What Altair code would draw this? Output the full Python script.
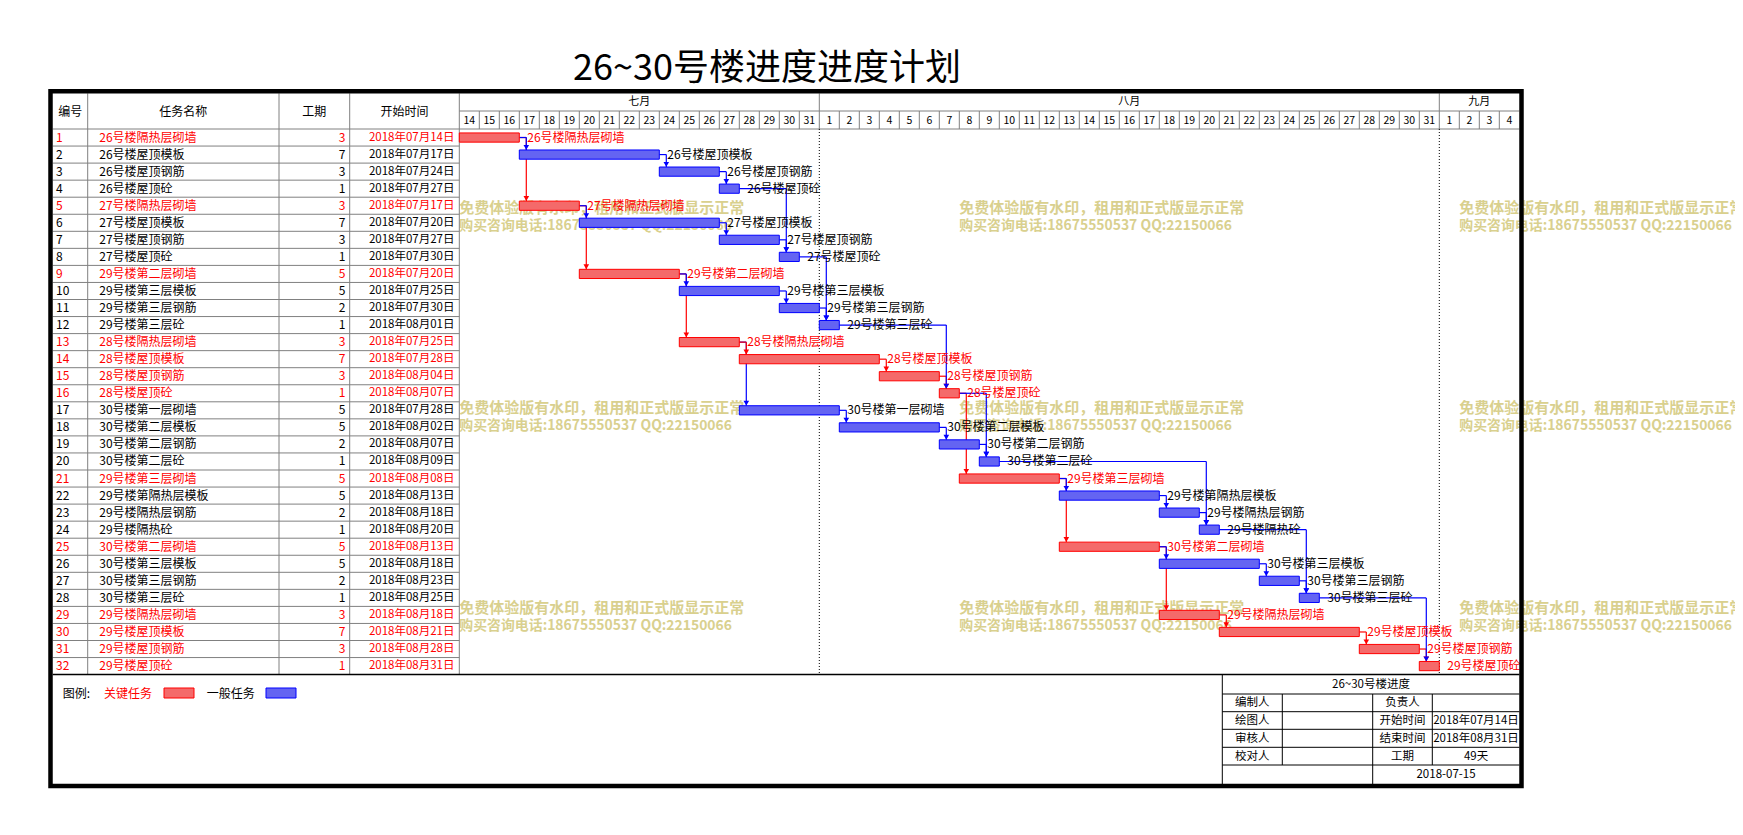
import altair as alt
import pandas as pd

# ---------------- data ----------------
TITLE = "26~30号楼进度进度计划"
task_ids = list(range(1, 33))
task_names = [
    "26号楼隔热层砌墙", "26号楼屋顶模板", "26号楼屋顶钢筋", "26号楼屋顶砼",
    "27号楼隔热层砌墙", "27号楼屋顶模板", "27号楼屋顶钢筋", "27号楼屋顶砼",
    "29号楼第二层砌墙", "29号楼第三层模板", "29号楼第三层钢筋", "29号楼第三层砼",
    "28号楼隔热层砌墙", "28号楼屋顶模板", "28号楼屋顶钢筋", "28号楼屋顶砼",
    "30号楼第一层砌墙", "30号楼第二层模板", "30号楼第二层钢筋", "30号楼第二层砼",
    "29号楼第三层砌墙", "29号楼第隔热层模板", "29号楼隔热层钢筋", "29号楼隔热砼",
    "30号楼第二层砌墙", "30号楼第三层模板", "30号楼第三层钢筋", "30号楼第三层砼",
    "29号楼隔热层砌墙", "29号楼屋顶模板", "29号楼屋顶钢筋", "29号楼屋顶砼"]
durations = [3, 7, 3, 1, 3, 7, 3, 1, 5, 5, 2, 1, 3, 7, 3, 1,
             5, 5, 2, 1, 5, 5, 2, 1, 5, 5, 2, 1, 3, 7, 3, 1]
start_dates = [
    "2018-07-14", "2018-07-17", "2018-07-24", "2018-07-27",
    "2018-07-17", "2018-07-20", "2018-07-27", "2018-07-30",
    "2018-07-20", "2018-07-25", "2018-07-30", "2018-08-01",
    "2018-07-25", "2018-07-28", "2018-08-04", "2018-08-07",
    "2018-07-28", "2018-08-02", "2018-08-07", "2018-08-09",
    "2018-08-08", "2018-08-13", "2018-08-18", "2018-08-20",
    "2018-08-13", "2018-08-18", "2018-08-23", "2018-08-25",
    "2018-08-18", "2018-08-21", "2018-08-28", "2018-08-31"]
critical = [1, 0, 0, 0, 1, 0, 0, 0, 1, 0, 0, 0, 1, 1, 1, 1,
            0, 0, 0, 0, 1, 0, 0, 0, 1, 0, 0, 0, 1, 1, 1, 1]
link_pred = [1, 1, 2, 3, 4, 5, 5, 6, 7, 8, 9, 9, 10, 11, 12, 13, 13, 14, 15, 16,
             16, 17, 18, 19, 20, 21, 21, 22, 23, 24, 25, 25, 26, 27, 28, 29, 30, 31]
link_succ = [2, 5, 3, 4, 8, 6, 9, 7, 8, 12, 10, 13, 11, 12, 16, 14, 17, 15, 16, 20,
             21, 18, 19, 20, 24, 22, 25, 23, 24, 28, 26, 29, 27, 28, 32, 30, 31, 32]

CAL_START = "2018-07-14"
CAL_END = "2018-09-04"
month_names = {7: "七月", 8: "八月", 9: "九月"}
header_cols = ["编号", "任务名称", "工期", "开始时间"]
legend_labels = ["图例:", "关键任务", "一般任务"]
info_title = "26~30号楼进度"
info_left = ["编制人", "绘图人", "审核人", "校对人"]
info_mid = ["负责人", "开始时间", "结束时间", "工期"]
info_right = ["", "2018年07月14日", "2018年08月31日", "49天"]
info_date = "2018-07-15"
watermark = ["免费体验版有水印，租用和正式版显示正常", "购买咨询电话:18675550537 QQ:22150066"]

# ---------------- layout ----------------
FONT = "Noto Sans CJK SC"
W, H = 1727, 800
OX, OY = 8, 8
GX0, DAYW = 459.3, 20.0
TY0, ROWH = 129.0, 17.05
RED, BLUE, GRAY = "#ff0000", "#0000ff", "#808080"
RED_FILL, BLUE_FILL = "#f46a6a", "#6464f2"
BH = 4.6 / ROWH


def dx(px):
    return (px - GX0) / DAYW


def dy(py):
    return (py - TY0) / ROWH


XS = alt.Scale(domain=[dx(OX), dx(OX + W)], nice=False, zero=False)
YS = alt.Scale(domain=[dy(OY), dy(OY + H)], nice=False, zero=False, reverse=True)


def rules(segs, color, width=1.0, dash=None):
    df = pd.DataFrame([{"x": dx(a), "y": dy(b), "x2": dx(c), "y2": dy(d)} for a, b, c, d in segs])
    kw = dict(color=color, strokeWidth=width)
    if dash:
        kw["strokeDash"] = dash
    return alt.Chart(df).mark_rule(**kw).encode(
        x=alt.X("x:Q", scale=XS, axis=None), x2="x2:Q",
        y=alt.Y("y:Q", scale=YS, axis=None), y2="y2:Q")


def texts(df, **mk):
    mk.setdefault("font", FONT)
    mk.setdefault("baseline", "middle")
    enc = dict(x=alt.X("x:Q", scale=XS, axis=None),
               y=alt.Y("y:Q", scale=YS, axis=None), text="t:N")
    if "c" in df.columns:
        enc["color"] = alt.Color("c:N", scale=None)
    return alt.Chart(df).mark_text(**mk).encode(**enc)


def ptext(items, **mk):
    # items: (page_x, page_y, text[, color])
    rows = []
    for it in items:
        r = {"x": dx(it[0]), "y": dy(it[1]), "t": it[2]}
        r["c"] = it[3] if len(it) > 3 else "#000000"
        rows.append(r)
    return texts(pd.DataFrame(rows), **mk)


# ---------------- tasks ----------------
t0 = pd.Timestamp(CAL_START)
tasks = pd.DataFrame({"id": task_ids, "name": task_names, "dur": durations,
                      "start": pd.to_datetime(start_dates), "crit": critical})
tasks["s"] = (tasks["start"] - t0).dt.days
tasks["e"] = tasks["s"] + tasks["dur"]
tasks["row"] = tasks["id"] - 0.5
tasks["y1"] = tasks["row"] - BH
tasks["y2"] = tasks["row"] + BH
tasks["fill"] = tasks["crit"].map({1: RED_FILL, 0: BLUE_FILL})
tasks["stroke"] = tasks["crit"].map({1: RED, 0: BLUE})
tasks["tc"] = tasks["crit"].map({1: RED, 0: "#000000"})
tasks["date_txt"] = tasks["start"].dt.strftime("%Y年%m月%d日")
T = tasks.set_index("id")

layers = []

# watermark (behind everything)
wm1, wm2 = [], []
for gx in [0.0, 25.0, 50.0]:
    for gy in [4.65, 16.38, 28.11]:
        wm1.append({"x": gx, "y": gy, "t": watermark[0]})
        wm2.append({"x": gx, "y": gy + 1.02, "t": watermark[1]})
layers.append(texts(pd.DataFrame(wm1), align="left", fontSize=15, fontWeight="bold",
                    color="#d9d08e"))
layers.append(texts(pd.DataFrame(wm2), align="left", fontSize=13.9, fontWeight="bold",
                    color="#d9d08e"))

# table grid (gray)
gx_cols = [87.7, 279.0, 349.7, 459.3]
segs = [(x, 93.3, x, 674.5) for x in gx_cols]
segs += [(52.7, TY0 + ROWH * k, 459.3, TY0 + ROWH * k) for k in range(1, 32)]
segs += [(52.7, 129.0, 1519.3, 129.0), (459.3, 111.0, 1519.3, 111.0)]
days = pd.date_range(CAL_START, CAL_END)
ndays = len(days)
month_break = [k for k in range(1, ndays) if days[k].month != days[k - 1].month]
for k in range(1, ndays):
    xp = GX0 + DAYW * k
    segs.append((xp, 93.3 if k in month_break else 111.0, xp, 129.0))
layers.append(rules(segs, GRAY, 1.0))

# dotted month boundaries in gantt body
layers.append(rules([(GX0 + DAYW * k, 129.0, GX0 + DAYW * k, 674.5) for k in month_break],
                    "#000000", 1.0, dash=[1, 2]))

# header texts
hdr_x = [70.2, 183.3, 314.3, 404.5]
layers.append(ptext([(hdr_x[i], 111.5, header_cols[i]) for i in range(4)],
                    align="center", fontSize=12))
day_df = pd.DataFrame({"x": [k + 0.5 for k in range(ndays)], "y": dy(120.5),
                       "t": [str(d.day) for d in days]})
layers.append(texts(day_df, align="center", fontSize=10.5, color="#000000"))
mon = pd.DataFrame({"k": range(ndays), "m": [d.month for d in days]})
mon_df = mon.groupby("m")["k"].agg(["min", "max"]).reset_index()
mon_df["x"] = (mon_df["min"] + mon_df["max"] + 1) / 2
mon_df["y"] = dy(102.0)
mon_df["t"] = mon_df["m"].map(month_names)
layers.append(texts(mon_df[["x", "y", "t"]], align="center", fontSize=11, color="#000000"))

# table cells
def cell_df(col, xpx):
    return pd.DataFrame({"x": dx(xpx), "y": tasks["row"], "t": tasks[col].astype(str),
                         "c": tasks["tc"]})

layers.append(texts(cell_df("id", 56.0), align="left", fontSize=12))
layers.append(texts(cell_df("name", 99.3), align="left", fontSize=12))
layers.append(texts(cell_df("dur", 345.5), align="right", fontSize=12))
layers.append(texts(cell_df("date_txt", 454.5), align="right", fontSize=11.5))

# links
lk = pd.DataFrame({"p": link_pred, "q": link_succ}).sort_values(["q", "p"], ascending=False)
seg_rows, arr_rows = [], []
for _, r in lk.iterrows():
    p, q = int(r["p"]), int(r["q"])
    col = RED if (T.loc[p, "crit"] and T.loc[q, "crit"]) else BLUE
    xe = T.loc[p, "e"]
    xv = T.loc[q, "s"] + 0.35
    yp = T.loc[p, "row"]
    yt = T.loc[q, "y1"]
    seg_rows.append({"x": xe, "x2": xv, "y": yp, "y2": yp, "c": col})
    seg_rows.append({"x": xv, "x2": xv, "y": yp, "y2": yt, "c": col})
    arr_rows.append({"x": xv, "y": yt - 2.6 / ROWH, "c": col})
layers.append(alt.Chart(pd.DataFrame(seg_rows)).mark_rule(strokeWidth=1.2).encode(
    x=alt.X("x:Q", scale=XS, axis=None), x2="x2:Q",
    y=alt.Y("y:Q", scale=YS, axis=None), y2="y2:Q",
    color=alt.Color("c:N", scale=None)))

# bars
layers.append(alt.Chart(tasks).mark_rect(strokeWidth=1).encode(
    x=alt.X("s:Q", scale=XS, axis=None), x2="e:Q",
    y=alt.Y("y1:Q", scale=YS, axis=None), y2="y2:Q",
    fill=alt.Fill("fill:N", scale=None), stroke=alt.Stroke("stroke:N", scale=None)))

layers.append(alt.Chart(pd.DataFrame(arr_rows)).mark_point(
    shape="triangle-down", filled=True, size=32, opacity=1).encode(
    x=alt.X("x:Q", scale=XS, axis=None), y=alt.Y("y:Q", scale=YS, axis=None),
    color=alt.Color("c:N", scale=None)))

# bar labels
lab = pd.DataFrame({"x": tasks["e"] + 0.4, "y": tasks["row"], "t": tasks["name"], "c": tasks["tc"]})
layers.append(texts(lab, align="left", fontSize=12))

# legend
layers.append(ptext([(62.7, 693.5, legend_labels[0], "#000000"),
                     (104.0, 693.5, legend_labels[1], RED),
                     (206.7, 693.5, legend_labels[2], "#000000")], align="left", fontSize=12))
sw = pd.DataFrame([{"x": dx(164), "x2": dx(194), "y": dy(688), "y2": dy(698), "f": RED_FILL, "s": RED},
                   {"x": dx(266), "x2": dx(296), "y": dy(688), "y2": dy(698), "f": BLUE_FILL, "s": BLUE}])
layers.append(alt.Chart(sw).mark_rect(strokeWidth=1).encode(
    x=alt.X("x:Q", scale=XS, axis=None), x2="x2:Q",
    y=alt.Y("y:Q", scale=YS, axis=None), y2="y2:Q",
    fill=alt.Fill("f:N", scale=None), stroke=alt.Stroke("s:N", scale=None)))

# info box
ib = [(1222.3, 674.5, 1222.3, 784.0)]
row_ys = [694.0, 711.7, 729.3, 747.3, 765.0]
ib += [(1222.3, y, 1519.5, y) for y in row_ys]
ib += [(1282.3, 694.0, 1282.3, 765.0), (1372.7, 694.0, 1372.7, 784.0), (1432.3, 694.0, 1432.3, 765.0)]
layers.append(rules(ib, "#000000", 1.0))
info_items = [(1371.0, 684.5, info_title)]
for i in range(4):
    yc = (row_ys[i] + row_ys[i + 1]) / 2 + 0.5
    info_items.append((1252.3, yc, info_left[i]))
    info_items.append((1402.5, yc, info_mid[i]))
    if info_right[i]:
        info_items.append((1476.0, yc, info_right[i]))
info_items.append((1446.0, 775.0, info_date))
layers.append(ptext(info_items, align="center", fontSize=11.5))

# table bottom line and frame
layers.append(rules([(52.7, 674.5, 1519.5, 674.5)], "#000000", 1.5))
frame = pd.DataFrame([{"x": dx(50.5), "x2": dx(1521.5), "y": dy(91.3), "y2": dy(786.0)}])
layers.append(alt.Chart(frame).mark_rect(fillOpacity=0, stroke="#000000", strokeWidth=4.5).encode(
    x=alt.X("x:Q", scale=XS, axis=None), x2="x2:Q",
    y=alt.Y("y:Q", scale=YS, axis=None), y2="y2:Q"))

# title
layers.append(ptext([(767.0, 68.5, TITLE)], align="center", fontSize=36))

chart = alt.layer(*layers).properties(
    width=W, height=H, padding=0,
    autosize=alt.AutoSizeParams(type="none"),
    background="#ffffff",
).configure_view(stroke=None)

chart.save("out.html", embed_options={"renderer": "svg", "actions": False})
